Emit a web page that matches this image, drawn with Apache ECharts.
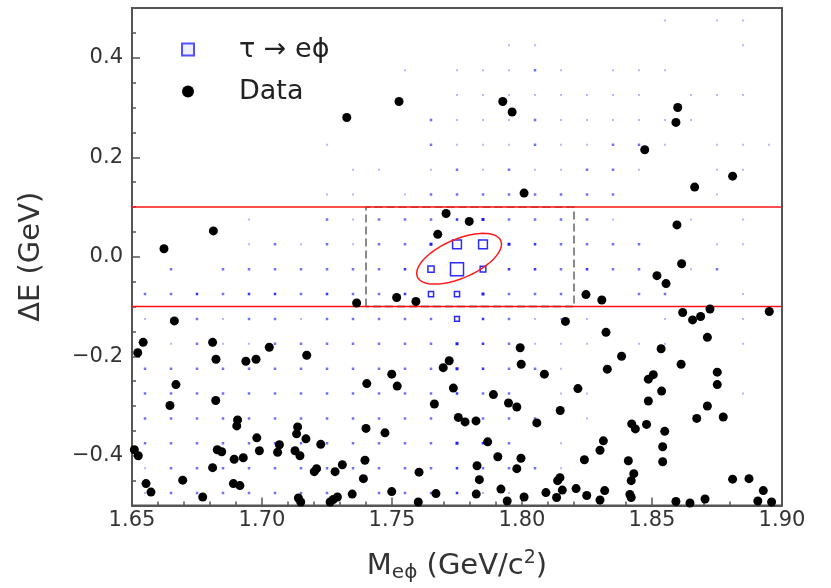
<!DOCTYPE html>
<html><head><meta charset="utf-8">
<script src="https://cdn.jsdelivr.net/npm/echarts@6/dist/echarts.min.js"></script>
<style>html,body{margin:0;padding:0;background:#fff}#c{width:831px;height:588px}</style>
</head><body><div id="c"></div>
<script>
// ---------- axis ticks ----------
const xTickValues = [1.65, 1.70, 1.75, 1.80, 1.85, 1.90];
const yTickValues = [-0.4, -0.2, 0.0, 0.2, 0.4];
const yTickLabels = ['\u22120.4', '\u22120.2', '0.0', '0.2', '0.4'];

// ---------- signal MC (tau -> e phi) 2D histogram, box representation ----------
const binXCenters = [1.655,1.665,1.675,1.685,1.695,1.705,1.715,1.725,1.735,1.745,1.755,1.765,1.775,1.785,1.795,1.805,1.815,1.825,1.835,1.845,1.855,1.865,1.875,1.885,1.895];
const binYCenters = [0.475,0.425,0.375,0.325,0.275,0.225,0.175,0.125,0.075,0.025,-0.025,-0.075,-0.125,-0.175,-0.225,-0.275,-0.325,-0.375,-0.425,-0.475];
const signalCounts = [
  [0,0,0,0,0,0,0,0,0,0,0,0,0,0,0,0,0,0,0,0,1,0,1,1,0],
  [0,0,0,0,0,0,0,0,0,0,0,0,0,0,1,1,0,0,0,0,0,0,0,1,0],
  [0,0,0,0,0,0,0,0,0,0,1,0,1,1,1,2,1,0,1,1,1,0,0,0,0],
  [0,0,0,0,0,0,0,0,0,0,0,0,1,1,1,1,1,1,1,1,0,1,1,1,0],
  [0,0,0,0,0,0,0,0,0,0,0,2,1,1,1,2,1,1,1,1,1,1,0,0,0],
  [0,0,0,0,0,0,0,1,0,0,0,2,1,1,1,2,1,1,2,2,1,0,1,1,1],
  [0,0,0,0,0,0,0,0,1,1,0,1,2,1,2,1,1,2,2,1,0,0,1,1,0],
  [0,0,0,0,0,0,0,1,1,0,1,2,2,2,2,2,2,2,2,0,0,0,1,0,0],
  [0,0,0,0,1,0,0,2,1,2,2,2,3,4,2,2,2,2,1,0,0,1,0,1,0],
  [0,0,0,0,1,2,1,2,1,2,2,4,60,60,4,3,2,2,2,2,0,0,1,1,0],
  [0,2,0,2,2,2,2,2,2,2,3,35,100,30,3,3,2,3,2,2,0,1,2,0,0],
  [2,2,3,2,3,3,2,3,2,2,3,25,25,4,2,2,2,0,0,2,2,0,0,1,0],
  [1,1,2,1,2,2,1,2,2,2,2,2,22,3,2,1,1,1,0,0,1,0,0,1,0],
  [1,1,2,1,1,2,2,2,2,2,2,2,4,3,2,1,1,1,0,1,1,0,0,1,0],
  [2,2,2,2,2,2,2,2,2,2,2,2,4,3,2,2,1,0,0,0,0,0,0,0,0],
  [2,2,2,2,2,2,2,2,2,2,2,2,3,2,2,0,1,1,0,0,0,0,0,1,0],
  [2,2,2,2,2,2,2,2,2,2,2,2,3,2,2,2,0,1,0,0,0,0,0,0,0],
  [2,2,2,2,2,2,2,2,2,2,2,2,4,3,2,0,1,0,0,0,0,0,0,0,0],
  [1,2,2,2,2,2,2,2,2,2,2,2,3,2,2,2,1,0,0,0,0,0,0,0,0],
  [1,2,2,2,2,2,2,2,2,2,2,2,3,1,1,0,0,0,0,0,0,0,0,0,0]
];

// ---------- data events ----------
const dataX = [
  1.7326,1.7527,1.7926,1.7962,1.8008,1.8472,1.8599,1.8592,1.8664,1.8810,
  1.6623,1.6813,1.7708,1.7797,1.7676,1.7364,1.7518,1.7592,1.8246,1.8167,1.8596,1.8614,1.8519,1.8554,1.8307,
  1.6663,1.6543,1.6522,1.6810,1.6823,1.6938,1.6977,1.7028,1.7172,1.6669,1.6646,1.6822,1.6906,1.6903,1.6980,1.6990,1.6828,1.6845,1.6509,1.6524,
  1.6893,1.6928,1.6810,1.6554,1.6573,1.6695,1.6772,1.6890,1.6915,1.7137,1.7133,1.7169,1.7067,1.7060,1.7127,1.7146,1.7226,1.7201,1.7210,1.7281,
  1.7309,1.7140,1.7149,1.7262,1.7290,1.7274,1.7347,1.7390,1.7396,1.7400,1.7403,1.7499,1.7520,1.7473,1.7499,1.7604,1.7601,1.7669,1.7697,1.7720,
  1.7736,1.7663,1.7755,
  1.8618,1.8656,1.8687,1.8723,1.8951,1.8323,1.8713,1.8535,1.7993,1.7997,1.8086,1.8328,1.8383,1.8486,1.8505,1.8612,1.8751,1.8751,1.8537,1.8215,
  1.7890,1.7948,1.7980,1.8147,1.8486,1.8713,1.8672,1.8774,1.7781,1.7823,1.8057,1.8422,1.8436,1.8479,1.8549,1.7868,1.8313,1.8300,1.8541,1.8541,
  1.7907,1.7996,1.7980,1.7827,1.7836,1.8240,1.8409,1.8430,1.8420,1.8146,1.8137,1.7919,1.7824,1.7943,1.8008,1.8092,1.8133,1.8155,1.8208,1.8249,
  1.8300,1.8318,1.8415,1.8420,1.8592,1.8646,1.8704,1.8810,1.8873,1.8928,1.8907,1.8960
];
const dataY = [
  0.280,0.312,0.312,0.291,0.128,0.215,0.300,0.270,0.140,0.162,
  0.016,0.052,0.087,0.071,0.045,-0.093,-0.082,-0.090,-0.076,-0.130,0.064,-0.014,-0.038,-0.054,-0.087,
  -0.129,-0.172,-0.193,-0.172,-0.206,-0.210,-0.206,-0.182,-0.198,-0.257,-0.299,-0.289,-0.328,-0.340,-0.364,-0.390,-0.388,-0.392,-0.388,-0.400,
  -0.407,-0.404,-0.424,-0.456,-0.473,-0.449,-0.483,-0.456,-0.460,-0.342,-0.356,-0.366,-0.378,-0.393,-0.390,-0.400,-0.377,-0.432,-0.426,-0.432,
  -0.418,-0.485,-0.493,-0.493,-0.483,-0.488,-0.477,-0.446,-0.409,-0.345,-0.255,-0.236,-0.260,-0.354,-0.472,-0.433,-0.493,-0.476,-0.223,-0.209,
  -0.264,-0.296,-0.323,
  -0.112,-0.127,-0.120,-0.105,-0.110,-0.152,-0.162,-0.185,-0.183,-0.216,-0.236,-0.226,-0.200,-0.246,-0.237,-0.216,-0.232,-0.257,-0.270,-0.265,
  -0.277,-0.294,-0.302,-0.309,-0.290,-0.300,-0.325,-0.322,-0.332,-0.330,-0.334,-0.336,-0.346,-0.337,-0.351,-0.372,-0.370,-0.389,-0.382,-0.412,
  -0.402,-0.405,-0.426,-0.420,-0.448,-0.408,-0.410,-0.436,-0.450,-0.444,-0.450,-0.467,-0.477,-0.491,-0.483,-0.474,-0.484,-0.469,-0.466,-0.480,
  -0.489,-0.470,-0.478,-0.484,-0.492,-0.495,-0.487,-0.447,-0.446,-0.470,-0.491,-0.493
];

// ---------- signal region definitions ----------
const bandY = [-0.1, 0.1];
const boxX = [1.74, 1.82];
const boxY = [-0.1, 0.1];
const ellipseCenter = [1.7758, -0.004];
const ellipseHalfX = 0.0163;
const ellipseHalfY = 0.051;
const ellipsePhaseDeg = 55;

// ---------- build series data ----------
const boxData = [];
signalCounts.forEach((row, j) => row.forEach((v, i) => { if (v > 0) boxData.push([binXCenters[i], binYCenters[j], v]); }));
const pointData = dataX.map((x, i) => [x, dataY[i]]);
const xMin = xTickValues[0], xMax = xTickValues[xTickValues.length - 1];

const FONT = 'DejaVu Sans';
const AXC = '#555';
const chart = echarts.init(document.getElementById('c'), null, {renderer: 'canvas'});
const dotAlpha = [0, 0.3, 0.6, 0.85, 0.95];
const dotSide = [0, 2, 2.5, 2.5, 3];

chart.setOption({
  animation: false,
  backgroundColor: '#fff',
  textStyle: {fontFamily: FONT},
  grid: {left: 132, right: 49, top: 8, bottom: 80, show: true, borderColor: AXC, borderWidth: 2, backgroundColor: 'transparent'},
  legend: {
    orient: 'vertical', left: 176, top: 31, itemWidth: 12, itemHeight: 12, itemGap: 15,
    textStyle: {fontSize: 27, color: '#222', fontFamily: FONT, padding: [0, 0, 0, 40]},
    data: [
      {name: '\u03c4 \u2192 e\u03d5', icon: 'rect', itemStyle: {color: '#eef', borderColor: '#5050ff', borderWidth: 2}},
      {name: 'Data', icon: 'circle', itemStyle: {color: '#000', borderWidth: 0}}
    ]
  },
  xAxis: {
    type: 'value', min: xMin, max: xMax, interval: 0.05,
    axisLine: {show: true, onZero: false, lineStyle: {color: AXC, width: 2}},
    axisTick: {show: true, inside: true, length: 8, lineStyle: {color: AXC, width: 1.5}},
    minorTick: {show: true, splitNumber: 5, length: 4, lineStyle: {color: AXC, width: 1.5}},
    splitLine: {show: false},
    axisLabel: {fontSize: 21, color: '#333', margin: 5, fontFamily: FONT, formatter: v => v.toFixed(2)},
    name: '{a|M}{b|e\u03d5}{a| (GeV/c}{c|2}{a|)}',
    nameLocation: 'middle', nameGap: 43,
    nameTextStyle: {color: '#333', fontFamily: FONT, rich: {
      a: {fontSize: 29, color: '#333', fontFamily: FONT},
      b: {fontSize: 20, color: '#333', fontFamily: FONT, padding: [14, 0, 0, 0]},
      c: {fontSize: 19, color: '#333', fontFamily: FONT, padding: [0, 0, 16, 0]}
    }}
  },
  yAxis: [{
    type: 'value', min: -0.5, max: 0.5, interval: 0.05,
    axisLine: {show: true, onZero: false, lineStyle: {color: AXC, width: 2}},
    axisTick: {show: true, inside: true, length: 4, lineStyle: {color: AXC, width: 1.5}},
    splitLine: {show: false},
    axisLabel: {fontSize: 21, color: '#333', margin: 9, fontFamily: FONT, customValues: yTickValues,
      formatter: v => { const k = yTickValues.findIndex(t => Math.abs(t - v) < 1e-6); return k >= 0 ? yTickLabels[k] : ''; }},
    name: '\u0394E (GeV)', nameLocation: 'middle', nameGap: 86, nameRotate: 90,
    nameTextStyle: {fontSize: 29, color: '#333', fontFamily: FONT}
  }, {
    type: 'value', min: -0.5, max: 0.5, interval: 0.05, position: 'left',
    axisLine: {show: false, onZero: false},
    axisTick: {show: true, inside: true, length: 8, customValues: yTickValues, lineStyle: {color: AXC, width: 1.5}},
    axisLabel: {show: false}, splitLine: {show: false}
  }],
  series: [
    {
      name: '\u03c4 \u2192 e\u03d5', type: 'custom', data: boxData, z: 2, clip: true,
      itemStyle: {color: '#5050ff'},
      renderItem: (params, api) => {
        const c = api.coord([api.value(0), api.value(1)]);
        const v = api.value(2);
        if (v >= 10) {
          const s = 2.5 + 0.105 * v;
          return {type: 'rect', shape: {x: c[0] - s / 2, y: c[1] - s / 2, width: s, height: s},
            style: {fill: 'none', stroke: '#2a2aff', lineWidth: 1.5}};
        }
        const s = dotSide[v];
        return {type: 'rect', shape: {x: c[0] - s / 2, y: c[1] - s / 2, width: s, height: s},
          style: {fill: '#1010ff', opacity: dotAlpha[v]}};
      }
    },
    {
      type: 'line', silent: true, z: 3, symbol: 'none',
      data: [[boxX[0], boxY[0]], [boxX[0], boxY[1]], [boxX[1], boxY[1]], [boxX[1], boxY[0]], [boxX[0], boxY[0]]],
      lineStyle: {color: '#8a8a8a', width: 2, type: [8, 4]}
    },
    {
      type: 'line', silent: true, z: 4, symbol: 'none',
      data: [[xMin, bandY[1]], [xMax, bandY[1]]], lineStyle: {color: '#ff1010', width: 1.5}
    },
    {
      type: 'line', silent: true, z: 4, symbol: 'none',
      data: [[xMin, bandY[0]], [xMax, bandY[0]]], lineStyle: {color: '#ff1010', width: 1.5}
    },
    {
      type: 'custom', silent: true, z: 5, data: [ellipseCenter],
      renderItem: (params, api) => {
        const ph = ellipsePhaseDeg * Math.PI / 180;
        const pts = [];
        for (let k = 0; k < 90; k++) {
          const t = k / 90 * 2 * Math.PI;
          pts.push(api.coord([api.value(0) + ellipseHalfX * Math.cos(t), api.value(1) + ellipseHalfY * Math.cos(t - ph)]));
        }
        return {type: 'polygon', shape: {points: pts}, style: {fill: 'none', stroke: '#ff1a1a', lineWidth: 1.5}};
      }
    },
    {
      name: 'Data', type: 'scatter', data: pointData, symbol: 'circle', symbolSize: 9, z: 6, clip: false,
      itemStyle: {color: '#000', opacity: 1}
    }
  ]
});
</script>
</body></html>
